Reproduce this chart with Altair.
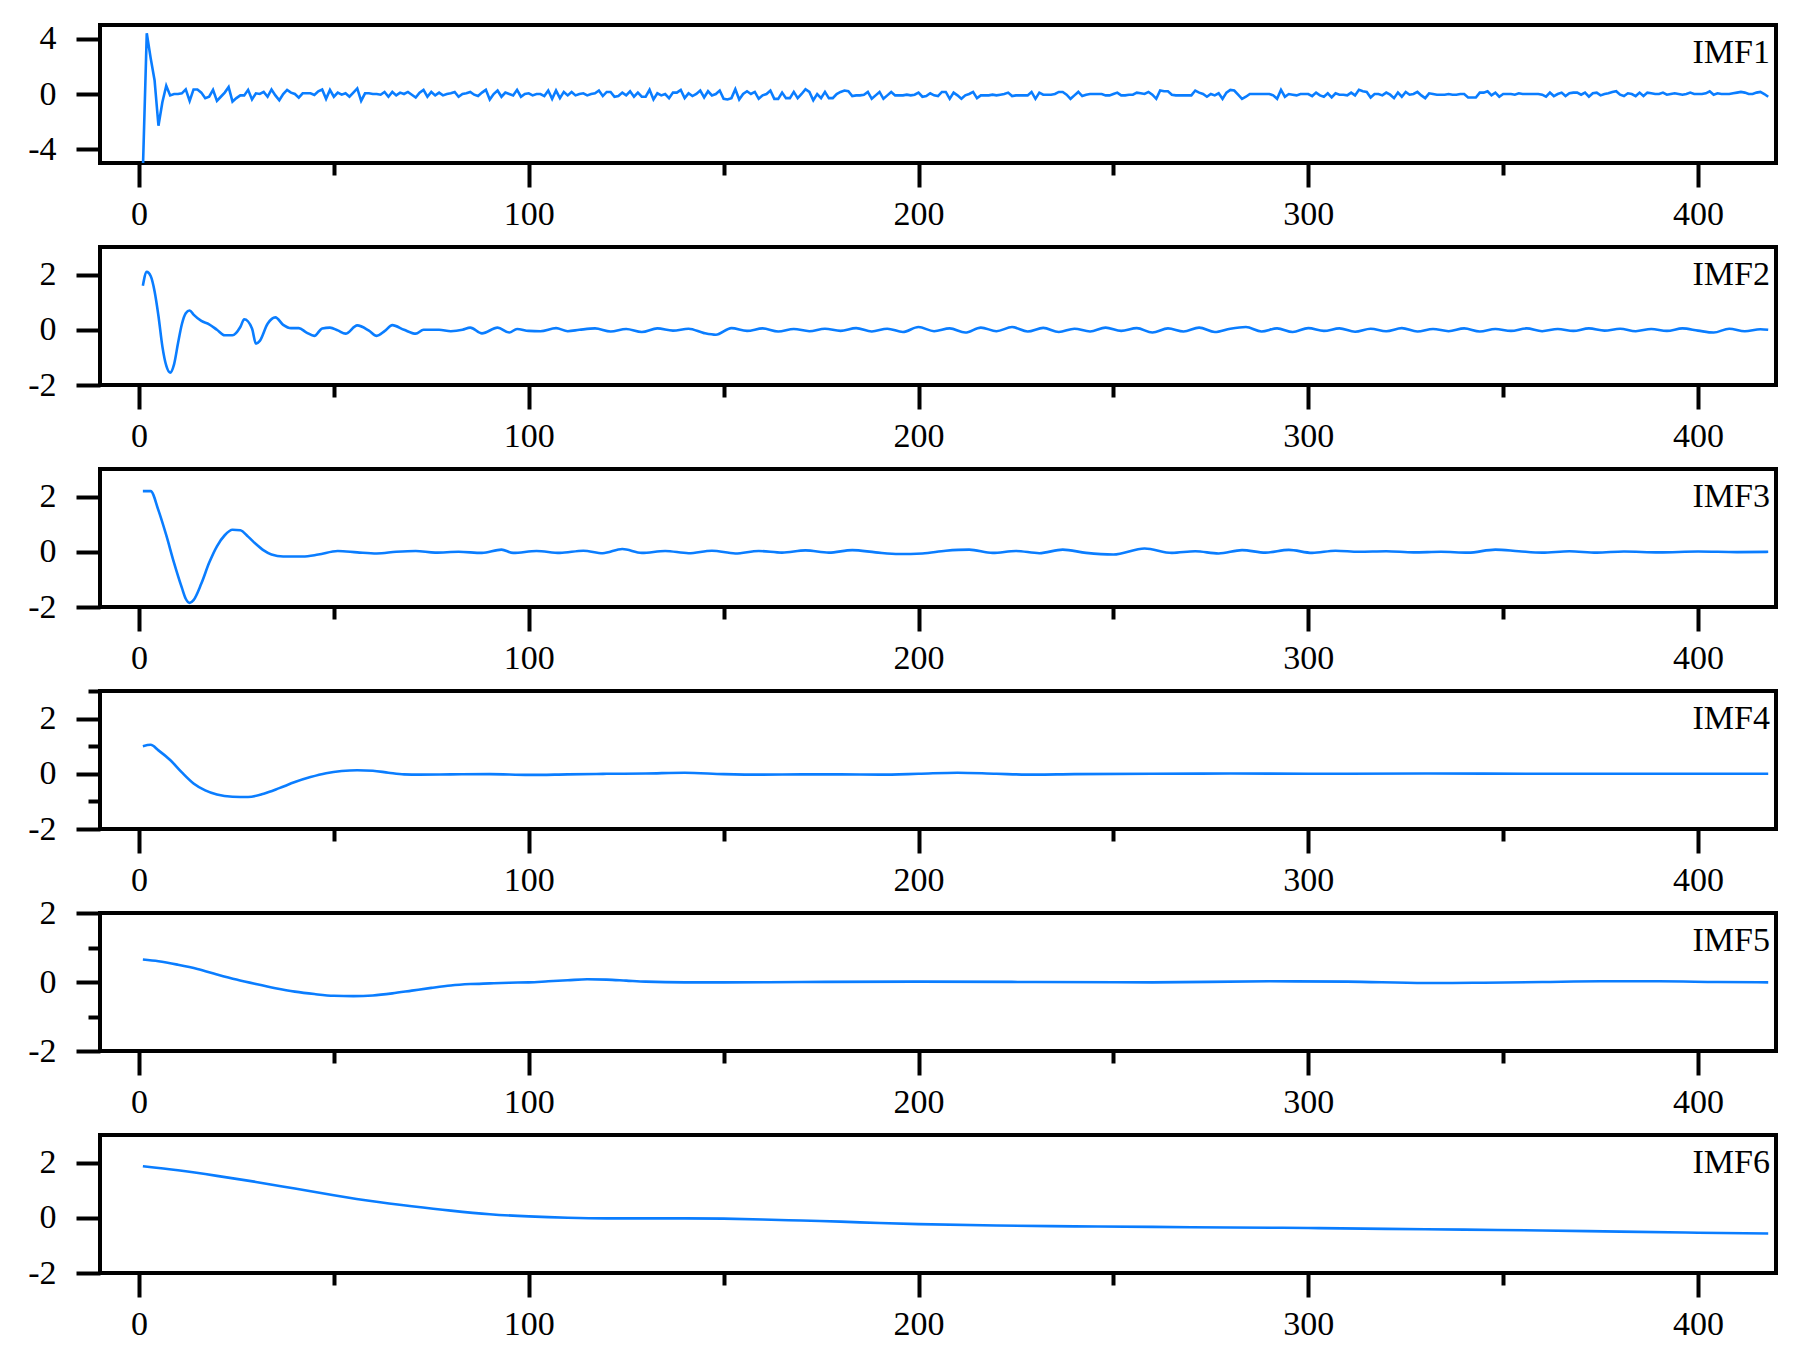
import altair as alt
import pandas as pd

FONT = "Liberation Serif"
BLUE = "#0A7DFF"
W, H = 1676, 138

x_ticks = [0, 50, 100, 150, 200, 250, 300, 350, 400]

imf1 = [
    -5.5, 4.4, 2.6, 1.0, -2.3, -0.6, 0.6, -0.1, 0.0, 0.0, 0.05, 0.33, -0.5, 0.33, 0.33, 0.1, -0.3, -0.2, 0.3, -0.5,
    -0.2, 0.1, 0.5, -0.55, -0.3, -0.1, -0.1, 0.3, -0.4, 0.05, 0.0, 0.15, -0.2, 0.33, -0.1, -0.45, 0.0, 0.3, 0.1, 0.0,
    -0.26, 0.05, 0.05, 0.05, -0.07, 0.2, 0.33, -0.35, 0.3, -0.2, 0.1, -0.05, 0.05, -0.2, 0.1, 0.4, -0.5, 0.05, 0.05, 0.0,
    0.0, -0.05, 0.15, -0.2, 0.15, -0.1, 0.1, 0.0, 0.15, -0.05, -0.25, 0.1, 0.3, -0.2, 0.15, -0.1, 0.1, -0.1, 0.0, 0.05,
    0.15, -0.2, 0.0, 0.05, 0.15, -0.05, -0.15, 0.1, 0.3, -0.4, 0.0, 0.25, -0.2, 0.1, 0.0, -0.1, 0.3, -0.2, 0.0, 0.05,
    -0.1, 0.0, 0.0, -0.15, 0.25, -0.35, 0.25, -0.3, 0.15, -0.1, 0.15, -0.1, 0.0, 0.05, -0.1, 0.0, 0.05, 0.25, -0.15, 0.15,
    0.15, -0.2, -0.15, 0.1, -0.1, 0.2, -0.2, 0.1, -0.2, -0.2, 0.3, -0.4, 0.05, -0.1, 0.0, -0.3, 0.1, 0.1, 0.3, -0.3,
    0.05, -0.15, 0.0, 0.25, -0.25, 0.2, -0.1, 0.0, 0.25, -0.35, -0.4, -0.3, 0.35, -0.4, 0.0, 0.2, 0.0, 0.15, -0.35, -0.1,
    0.0, 0.25, -0.35, -0.35, 0.1, -0.3, -0.3, 0.15, -0.3, 0.0, 0.35, 0.15, -0.45, 0.0, -0.3, 0.15, -0.3, -0.3, 0.0, 0.15,
    0.25, 0.2, -0.15, -0.1, -0.1, -0.05, 0.15, -0.35, -0.1, 0.15, -0.35, -0.1, 0.15, -0.1, -0.1, -0.1, -0.05, -0.1, -0.05, 0.1,
    -0.2, -0.15, 0.05, -0.1, -0.15, 0.15, 0.15, -0.35, 0.1, -0.1, -0.35, -0.1, 0.0, 0.15, -0.3, -0.1, -0.1, -0.1, -0.05, -0.1,
    -0.05, 0.0, 0.1, -0.15, -0.1, -0.1, -0.1, -0.1, 0.15, -0.35, 0.1, -0.05, -0.05, -0.05, 0.0, 0.15, 0.15, -0.05, -0.35, -0.1,
    0.15, -0.15, -0.05, 0.0, 0.0, 0.0, 0.0, -0.1, -0.1, 0.0, 0.1, -0.1, -0.1, -0.05, -0.05, 0.1, 0.05, 0.0, 0.15, -0.05,
    -0.35, 0.25, 0.2, 0.2, -0.05, -0.1, -0.1, -0.1, -0.1, -0.1, 0.25, 0.1, 0.0, -0.2, 0.0, -0.1, 0.05, -0.35, 0.1, 0.3,
    0.25, -0.05, -0.35, -0.2, 0.0, 0.0, 0.0, 0.0, 0.0, 0.0, -0.1, -0.35, 0.3, -0.2, 0.0, -0.05, -0.1, 0.0, 0.0, 0.0,
    -0.15, 0.1, -0.1, -0.2, 0.05, -0.25, 0.05, -0.05, -0.05, -0.1, 0.1, -0.1, 0.3, 0.2, 0.15, -0.25, 0.0, 0.0, -0.1, 0.1,
    -0.05, -0.3, 0.1, -0.2, 0.15, -0.05, 0.0, 0.15, -0.1, -0.3, 0.05, 0.0, -0.05, -0.05, -0.05, 0.0, -0.05, -0.05, 0.0, 0.0,
    -0.25, -0.25, -0.25, 0.1, 0.1, 0.2, -0.1, 0.1, -0.2, 0.0, 0.0, 0.0, -0.05, 0.05, 0.0, 0.0, 0.0, 0.0, 0.0, -0.05,
    -0.2, 0.1, -0.15, 0.0, 0.1, -0.15, 0.05, 0.1, 0.1, -0.05, 0.1, -0.2, 0.05, 0.1, -0.1, 0.0, 0.05, 0.15, 0.2, -0.05,
    -0.15, 0.05, 0.0, -0.15, 0.1, -0.15, 0.1, 0.05, 0.0, 0.0, 0.1, -0.05, 0.0, 0.05, 0.0, -0.05, 0.0, 0.1, 0.0, 0.0,
    0.0, 0.05, 0.2, -0.05, 0.05, 0.0, 0.0, 0.0, 0.05, 0.1, 0.15, 0.1, 0.0, 0.0, 0.1, 0.15, 0.0, -0.2,
]
imf1_x = list(range(1, len(imf1) + 1))

imf2_x = [1, 2, 3, 4, 5, 6, 7, 8, 9, 10, 11, 12, 13, 14, 16, 18, 20, 22, 24, 26, 27, 29, 30, 31, 33, 35, 37, 39,
          41, 43, 45, 47, 49, 51, 53, 56, 59, 61, 63, 65, 68, 71, 73, 77, 80, 83, 85, 88, 92, 95, 97, 100, 103,
          107, 110, 113, 117, 121, 125, 129, 133, 137, 141, 145, 148, 152, 156, 160, 164, 168, 172, 176, 180, 184,
          188, 192, 196, 200, 204, 208, 212, 216, 220, 224, 228, 232, 236, 240, 244, 248, 252, 256, 260, 264, 268,
          272, 276, 280, 284, 288, 292, 296, 300, 304, 308, 312, 316, 320, 324, 328, 332, 336, 340, 344, 348, 352,
          356, 360, 364, 368, 372, 376, 380, 384, 388, 392, 396, 400, 404, 408, 412, 416, 418]
imf2_y = [1.6, 2.1, 1.95, 1.4, 0.5, -0.6, -1.3, -1.55, -1.25, -0.5, 0.2, 0.6, 0.7, 0.55, 0.32, 0.2, 0.0, -0.2, -0.2,
          0.1, 0.38, 0.05, -0.5, -0.4, 0.22, 0.45, 0.18, 0.06,
          0.06, -0.1, -0.22, 0.05, 0.08, -0.02, -0.14, 0.16, -0.03, -0.22, -0.05, 0.17, 0.0, -0.14, 0.0, 0.0, -0.05,
          0.0, 0.08, -0.13, 0.08, -0.1, 0.03, -0.04, -0.05,
          0.06, -0.05, 0.0, 0.05, -0.06, 0.03, -0.08, 0.05, -0.03, 0.04, -0.12, -0.18, 0.06, -0.04, 0.05, -0.06, 0.03,
          -0.05, 0.04, -0.04, 0.06,
          -0.06, 0.04, -0.08, 0.1, -0.05, 0.05, -0.1, 0.08, -0.05, 0.1, -0.06, 0.07, -0.08, 0.04, -0.06, 0.08, -0.04,
          0.06, -0.1, 0.05, -0.06,
          0.08, -0.08, 0.04, 0.1, -0.06, 0.05, -0.08, 0.06, -0.04, 0.05, -0.07, 0.04, -0.05, 0.06, -0.06, 0.03, -0.05,
          0.05, -0.06, 0.03, -0.04,
          0.05, -0.05, 0.03, -0.04, 0.05, -0.03, 0.04, -0.05, 0.03, -0.04, 0.05, -0.03, -0.1, 0.04, -0.05, 0.02, 0.0]

imf3_x = [1, 3, 5, 7, 9, 11, 12, 13, 14, 16, 18, 20, 22, 24, 26, 28, 30, 32, 34, 37, 42, 46, 51, 56, 61, 66, 71, 76,
          82, 88, 93, 96, 102, 108, 114, 119, 124, 129, 135, 141, 147, 153, 159, 165, 171, 177, 183, 189, 195, 201,
          207, 213, 219, 225, 231, 237, 243, 250, 258, 265, 271, 277, 283, 289, 295, 301, 307, 313, 320, 327, 334,
          341, 348, 354, 360, 367, 374, 381, 390, 400, 410, 418]
imf3_y = [2.2, 2.2, 1.5, 0.6, -0.4, -1.3, -1.7, -1.85, -1.75, -1.15, -0.4, 0.2, 0.6, 0.8, 0.78, 0.55, 0.28, 0.05,
          -0.1, -0.17, -0.17, -0.1, 0.03, -0.02, -0.06, 0.0, 0.03, -0.03, 0.0, -0.04, 0.08, -0.04, 0.03, -0.04, 0.04,
          -0.05, 0.1, -0.04, 0.03, -0.05, 0.04, -0.06, 0.03, -0.03, 0.05, -0.03, 0.06, -0.02, -0.08, -0.06, 0.04,
          0.08, -0.04, 0.03, -0.05, 0.08, -0.04, -0.1, 0.12, -0.04, 0.02, -0.06, 0.06, -0.03, 0.07, -0.04, 0.04, 0.0,
          0.02, -0.02, 0.0, -0.03, 0.08, 0.02, -0.03, 0.02, -0.03, 0.01, -0.02, 0.01, -0.01, 0.0]

imf4_x = [1, 3, 5, 8, 11, 14, 17, 20, 24, 28, 32, 36, 40, 44, 48, 52, 56, 60, 64, 68, 72, 80, 90, 100, 110, 120, 130,
          140, 150, 160, 170, 180, 190, 200, 210, 220, 230, 240, 260, 280, 300, 330, 360, 390, 418]
imf4_y = [1.0, 1.05, 0.85, 0.5, 0.05, -0.35, -0.6, -0.75, -0.83, -0.84, -0.72, -0.52, -0.3, -0.12, 0.02, 0.1, 0.13,
          0.11, 0.04, -0.02, -0.03, -0.02, -0.01, -0.04, -0.02, 0.0, 0.01, 0.04, -0.01, -0.03, -0.02, -0.02, -0.03,
          0.0, 0.04, 0.0, -0.03, -0.01, 0.0, 0.01, 0.0, 0.01, 0.0, 0.0, 0.0]

imf5_x = [1, 5, 10, 15, 20, 25, 30, 35, 40, 45, 50, 55, 60, 65, 70, 75, 80, 85, 90, 95, 100, 105, 110, 115, 120, 125,
          130, 140, 150, 170, 200, 230, 260, 290, 310, 330, 345, 360, 375, 390, 405, 418]
imf5_y = [0.65, 0.6, 0.5, 0.38, 0.22, 0.07, -0.06, -0.18, -0.28, -0.35, -0.4, -0.41, -0.39, -0.33, -0.25, -0.17,
          -0.1, -0.06, -0.04, -0.02, -0.01, 0.02, 0.05, 0.08, 0.07, 0.04, 0.01, -0.01, -0.01, 0.0, 0.01, 0.0, -0.01,
          0.02, 0.01, -0.03, -0.02, 0.0, 0.02, 0.02, 0.0, -0.01]

imf6_x = [1, 10, 20, 30, 40, 50, 60, 70, 80, 90, 100, 110, 120, 130, 140, 150, 160, 170, 180, 190, 200, 220, 240,
          260, 280, 300, 320, 340, 360, 380, 400, 418]
imf6_y = [1.87, 1.72, 1.52, 1.3, 1.06, 0.82, 0.6, 0.42, 0.26, 0.13, 0.05, 0.0, -0.02, -0.02, -0.02, -0.03, -0.06,
          -0.1, -0.14, -0.19, -0.23, -0.28, -0.31, -0.33, -0.35, -0.37, -0.4, -0.43, -0.46, -0.5, -0.54, -0.57]

panel_defs = [
    ("IMF1", imf1_x, imf1, [-5, 5], [-4, 0, 4], "linear"),
    ("IMF2", imf2_x, imf2_y, [-2, 3], [-2, 0, 2], "monotone"),
    ("IMF3", imf3_x, imf3_y, [-2, 3], [-2, 0, 2], "monotone"),
    ("IMF4", imf4_x, imf4_y, [-2, 3], [-2, -1, 0, 1, 2, 3], "monotone"),
    ("IMF5", imf5_x, imf5_y, [-2, 2], [-2, -1, 0, 1, 2], "monotone"),
    ("IMF6", imf6_x, imf6_y, [-2, 3], [-2, 0, 2], "monotone"),
]


def make_panel(name, xs, ys, ydom, yticks, interp):
    df = pd.DataFrame({"t": xs, "v": ys})
    x_axis = alt.Axis(
        values=x_ticks, domain=False, grid=False, title=None,
        tickColor="black", tickWidth=4,
        tickSize={"condition": {"test": "datum.value % 100 !== 0", "value": 12}, "value": 24},
        labelExpr="datum.value % 100 === 0 ? datum.label : ''",
        labelFont=FONT, labelFontSize=34, labelColor="black",
        labelPadding=10, labelFlush=False, labelOverlap=False,
    )
    y_axis = alt.Axis(
        values=yticks, domain=False, grid=False, title=None,
        tickColor="black", tickWidth=4,
        tickSize={"condition": {"test": "abs(datum.value) % 2 === 1", "value": 12}, "value": 24},
        labelExpr="abs(datum.value) % 2 === 1 ? '' : toString(datum.value)",
        labelFont=FONT, labelFontSize=34, labelColor="black",
        labelPadding=20, labelOverlap=False,
    )
    line = alt.Chart(df).mark_line(color=BLUE, strokeWidth=2.6, interpolate=interp, clip=True).encode(
        x=alt.X("t:Q", scale=alt.Scale(domain=[-10, 420], nice=False, zero=False), axis=x_axis),
        y=alt.Y("v:Q", scale=alt.Scale(domain=ydom, nice=False, zero=False), axis=y_axis),
    )
    lab = alt.Chart(pd.DataFrame({"name": [name]})).mark_text(
        font=FONT, fontSize=34, color="black", align="right", baseline="middle"
    ).encode(text="name:N", x=alt.value(W - 6), y=alt.value(28))
    return alt.layer(line, lab).properties(width=W, height=H)


panels = [make_panel(*p) for p in panel_defs]

chart = alt.vconcat(*panels, spacing=84, bounds="flush").properties(
    padding={"left": 17, "top": 11, "right": 5, "bottom": 5},
    background="white",
).configure_view(stroke="black", strokeWidth=4)

chart.save("out.html", embed_options={"renderer": "svg", "actions": False})
